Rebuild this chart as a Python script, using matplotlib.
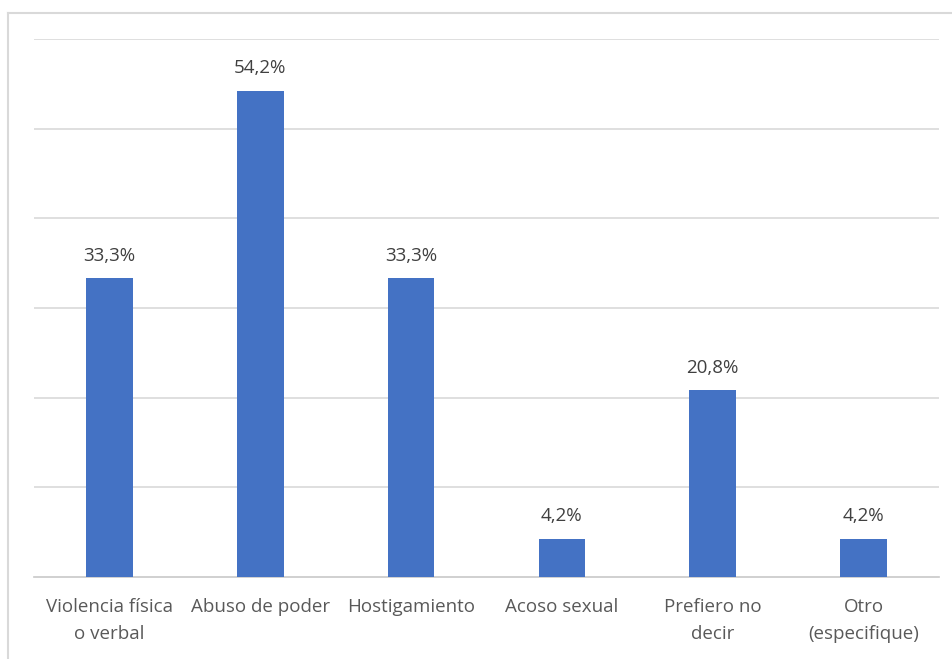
import matplotlib
matplotlib.use("Agg")
import matplotlib.pyplot as plt
from matplotlib.lines import Line2D

categories = ["Violencia física\no verbal", "Abuso de poder", "Hostigamiento",
              "Acoso sexual", "Prefiero no\ndecir", "Otro\n(especifique)"]
values = [33.3, 54.2, 33.3, 4.2, 20.8, 4.2]
value_labels = ["33,3%", "54,2%", "33,3%", "4,2%", "20,8%", "4,2%"]

plt.rcParams['font.family'] = ['Open Sans', 'DejaVu Sans']

fig = plt.figure(figsize=(9.52, 6.59), dpi=100)
ax = fig.add_axes([34/952, 1-577/659, (939-34)/952, (577-39)/659])

x = list(range(len(categories)))
bars = ax.bar(x, values, width=0.31, color="#4472C4", zorder=3)
ax.set_ylim(0, 60)
ax.set_xlim(-0.5, len(categories)-0.5)
ax.set_yticks([10, 20, 30, 40, 50, 60])
ax.yaxis.grid(True, color="#d9d9d9", linewidth=1.2, zorder=0)
ax.tick_params(axis='y', left=False, labelleft=False)
ax.set_xticks(x)
ax.set_xticklabels(categories, fontsize=13.5, color="#595959", linespacing=1.65)
ax.tick_params(axis='x', length=0, pad=15)
for s in ["top", "right", "left"]:
    ax.spines[s].set_visible(False)
ax.spines["bottom"].set_color("#c8c8c8")
ax.spines["bottom"].set_linewidth(1.2)

for xi, v, lab in zip(x, values, value_labels):
    ax.annotate(lab, (xi, v), xytext=(0, 10), textcoords="offset points",
                ha="center", va="bottom", fontsize=13.5, color="#404040")

# outer chart border (top and left visible)
yb = 1 - 13/659
xb = 8/952
fig.add_artist(Line2D([xb, 1], [yb, yb], transform=fig.transFigure, color="#d9d9d9", linewidth=1.5))
fig.add_artist(Line2D([xb, xb], [0, yb], transform=fig.transFigure, color="#d9d9d9", linewidth=1.5))

fig.savefig("out.png", dpi=100, facecolor="white")
